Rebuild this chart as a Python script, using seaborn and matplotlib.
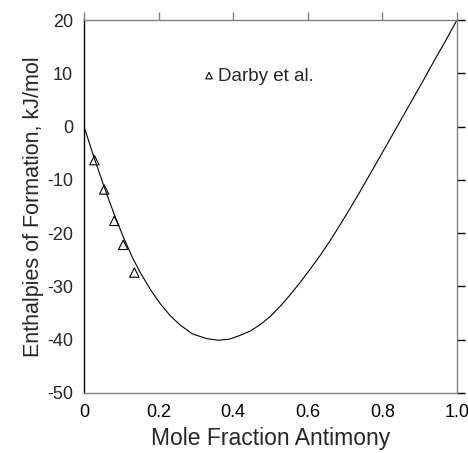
import numpy as np
import pandas as pd
import matplotlib
matplotlib.use("Agg")
import matplotlib.pyplot as plt
import seaborn as sns

# -----------------------------
# Data
# -----------------------------

# Calculated enthalpy of formation curve
curve_x = [0.0, 0.027, 0.054, 0.08, 0.107, 0.13, 0.15, 0.18, 0.204, 0.23,
           0.257, 0.29, 0.329, 0.36, 0.39, 0.418, 0.445, 0.472, 0.50, 0.525,
           0.55, 0.579, 0.606, 0.633, 0.66, 0.686, 0.713, 0.74, 0.767, 0.794,
           0.82, 0.85, 0.88, 0.91, 0.94, 0.97, 1.0]
curve_y = [0.0, -5.8, -11.3, -16.3, -21.0, -24.6, -27.3, -30.8, -33.2, -35.4,
           -37.2, -38.9, -39.8, -40.1, -39.9, -39.2, -38.4, -37.2, -35.6, -33.8,
           -31.8, -29.3, -26.8, -24.2, -21.4, -18.5, -15.4, -12.2, -8.9, -5.6,
           -2.4, 1.3, 5.0, 8.7, 12.5, 16.2, 20.0]

# Darby et al. experimental points
darby_x = [0.028, 0.054, 0.081, 0.105, 0.135]
darby_y = [-6.3, -11.8, -17.7, -22.2, -27.4]

x_ticks = [0, 0.2, 0.4, 0.6, 0.8, 1.0]
x_tick_labels = ["0", "0.2", "0.4", "0.6", "0.8", "1.0"]
y_ticks = [-50, -40, -30, -20, -10, 0, 10, 20]

curve_df = pd.DataFrame({"x": curve_x, "y": curve_y})
darby_df = pd.DataFrame({"x": darby_x, "y": darby_y})

# -----------------------------
# Plot
# -----------------------------

sns.set_theme(style="white")
plt.rcParams["font.family"] = ["Liberation Sans", "DejaVu Sans"]
plt.rcParams["axes.unicode_minus"] = False

fig = plt.figure(figsize=(4.68, 4.53), dpi=100)
ax = fig.add_axes([0.1795, 0.1325, 0.797, 0.8233])

sns.lineplot(data=curve_df, x="x", y="y", color="black", linewidth=0.8,
             estimator=None, sort=False, ax=ax)

sns.scatterplot(data=darby_df, x="x", y="y", marker="^", s=45,
                facecolor="none", edgecolor="black", linewidth=0.8,
                label="Darby et al.", ax=ax, zorder=3)

ax.set_xlim(0, 1.0)
ax.set_ylim(-50, 20)
ax.set_xticks(x_ticks)
ax.set_xticklabels(x_tick_labels)
ax.set_yticks(y_ticks)

ax.set_xlabel("Mole Fraction Antimony", fontsize=16.5, labelpad=4)
ax.set_ylabel("Enthalpies of Formation, kJ/mol", fontsize=15.5, labelpad=2)

# Frame: black left axis, grey others, ticks outward on all sides
grey = "#808080"
ax.spines["left"].set_color("black")
for side in ["bottom", "top", "right"]:
    ax.spines[side].set_color(grey)
for side in ax.spines:
    ax.spines[side].set_linewidth(1.0)

ax.tick_params(axis="both", which="major", direction="out", length=6,
               width=1.0, labelsize=13, pad=2,
               top=True, right=True, labeltop=False, labelright=False)
ax.tick_params(axis="x", colors=grey, labelcolor="black")
ax.tick_params(axis="y", color="black")
# right-side ticks grey
for line in ax.yaxis.get_ticklines()[1::2]:
    line.set_color(grey)

leg = ax.legend(loc="center left", bbox_to_anchor=(0.32, 0.85), frameon=False,
                fontsize=13.5, handlelength=0.6, handletextpad=0.2,
                borderpad=0, borderaxespad=0, markerscale=0.7)

fig.savefig("out.png", dpi=100)
